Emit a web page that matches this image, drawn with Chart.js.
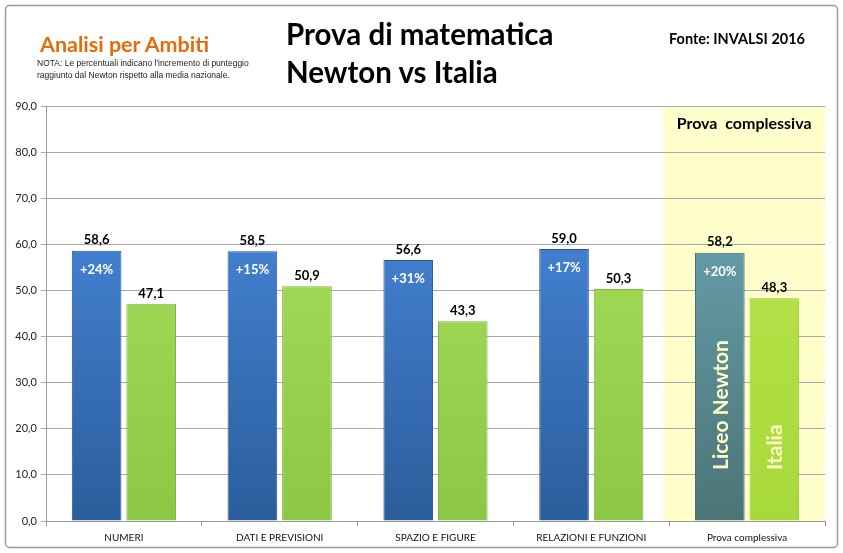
<!DOCTYPE html>
<html>
<head>
<meta charset="utf-8">
<script src="https://cdn.jsdelivr.net/npm/chart.js@4"></script>
<style>
  body { margin: 0; background: #fff; }
  #wrap { position: relative; width: 843px; height: 553px; }
  .txt { position: absolute; font-family: Lato, sans-serif; white-space: nowrap; }
</style>
</head>
<body>
<div id="wrap">
  <canvas id="chart" width="843" height="553"></canvas>
  <div class="txt" style="left:40px;top:31px;font-size:21.5px;font-weight:bold;color:#e46c0a;">Analisi per Ambiti</div>
  <div class="txt" style="left:37px;top:57px;font-size:8.5px;line-height:12px;color:#222;font-family:'Liberation Sans Narrow',sans-serif;">NOTA: Le percentuali indicano l'incremento di punteggio<br>raggiunto dal Newton rispetto alla media nazionale.</div>
  <div class="txt" style="left:286px;top:15px;font-size:29.5px;font-weight:bold;color:#000;line-height:38px;">Prova di matematica<br>Newton vs Italia</div>
  <div class="txt" style="left:669px;top:30px;font-size:14.5px;font-weight:bold;color:#000;">Fonte: INVALSI 2016</div>
</div>
<script>
const categories = ['NUMERI', 'DATI E PREVISIONI', 'SPAZIO E FIGURE', 'RELAZIONI E FUNZIONI', 'Prova complessiva'];
const newton = [58.6, 58.5, 56.6, 59.0, 58.2];
const italia = [47.1, 50.9, 43.3, 50.3, 48.3];
const increments = ['+24%', '+15%', '+31%', '+17%', '+20%'];
const seriesNames = ['Liceo Newton', 'Italia'];

const fmt = v => v.toFixed(1).replace('.', ',');

// vertical gradient for a bar, last category gets its own colours
function barFill(ctx, top, bottom, topLast, bottomLast) {
  const area = ctx.chart.chartArea;
  if (!area) return top;
  const last = ctx.dataIndex === categories.length - 1;
  const g = ctx.chart.ctx.createLinearGradient(0, area.top + 100, 0, area.bottom);
  g.addColorStop(0, last ? topLast : top);
  g.addColorStop(1, last ? bottomLast : bottom);
  return g;
}

const decor = {
  id: 'decor',
  beforeDraw(chart) {
    const c = chart.ctx, a = chart.chartArea, x = chart.scales.x;
    // frame
    c.save();
    c.strokeStyle = '#9a9a9a';
    c.lineWidth = 1.5;
    c.beginPath();
    c.roundRect(5.5, 5.5, 832, 542, 4);
    c.stroke();
    // yellow panel behind the overall test
    const left = (x.getPixelForValue(3) + x.getPixelForValue(4)) / 2 - 6;
    c.fillStyle = '#ffffcc';
    c.fillRect(left, a.top, a.right - left, a.bottom - a.top);
    c.fillStyle = '#000';
    c.font = 'bold 16px Lato';
    c.textAlign = 'center';
    c.textBaseline = 'middle';
    c.fillText('Prova  complessiva', (left + a.right) / 2, a.top + 18);
    c.restore();
  },
  afterDatasetsDraw(chart) {
    const c = chart.ctx;
    c.save();
    c.textAlign = 'center';
    chart.data.datasets.forEach((ds, di) => {
      chart.getDatasetMeta(di).data.forEach((bar, i) => {
        c.fillStyle = '#000';
        c.font = 'bold 13px Lato';
        c.textBaseline = 'bottom';
        c.fillText(fmt(ds.data[i]), bar.x, bar.y - 4);
        if (di === 0) {
          c.fillStyle = '#fff';
          c.textBaseline = 'middle';
          c.fillText(increments[i], bar.x, bar.y + 19);
        }
      });
    });
    // series names inside the last pair of bars
    const last = categories.length - 1;
    c.font = 'bold 21px Lato';
    c.textAlign = 'left';
    c.textBaseline = 'middle';
    chart.data.datasets.forEach((ds, di) => {
      const bar = chart.getDatasetMeta(di).data[last];
      c.save();
      c.translate(bar.x + 1, 470);
      c.rotate(-Math.PI / 2);
      c.fillStyle = '#ffffc4';
      c.fillText(seriesNames[di], 0, 0);
      c.restore();
    });
    c.restore();
  }
};

new Chart(document.getElementById('chart'), {
  type: 'bar',
  data: {
    labels: categories,
    datasets: [{
      label: seriesNames[0],
      data: newton,
      backgroundColor: ctx => barFill(ctx, '#4584d6', '#2b5d9b', '#68a0ad', '#4b7477'),
      borderColor: ctx => ctx.dataIndex === categories.length - 1 ? '#466e72' : '#2a5590',
      borderWidth: 1
    }, {
      label: seriesNames[1],
      data: italia,
      backgroundColor: ctx => barFill(ctx, '#a4dc5a', '#8cc843', '#b6e34a', '#a8d93c'),
      borderColor: ctx => ctx.dataIndex === categories.length - 1 ? '#97c23a' : '#7fb23a',
      borderWidth: 1
    }]
  },
  options: {
    responsive: false,
    animation: false,
    layout: { padding: { top: 106, left: 5, right: 18, bottom: 5 } },
    categoryPercentage: 0.7,
    barPercentage: 0.91,
    plugins: { legend: { display: false }, tooltip: { enabled: false } },
    scales: {
      x: {
        grid: { offset: true, drawOnChartArea: false, tickLength: 5, color: '#999' },
        border: { color: '#999' },
        ticks: { color: '#111', font: { family: 'Lato', size: 10 }, padding: 6 },
        afterFit(s) { s.height = 27; }
      },
      y: {
        min: 0, max: 90,
        ticks: { stepSize: 10, color: '#222', font: { family: 'Lato', size: 11 }, padding: 4, callback: v => fmt(v) },
        grid: { color: '#aaa', tickLength: 5 },
        border: { color: '#999' },
        afterFit(s) { s.width = 41; }
      }
    }
  },
  plugins: [decor]
});
</script>
</body>
</html>
